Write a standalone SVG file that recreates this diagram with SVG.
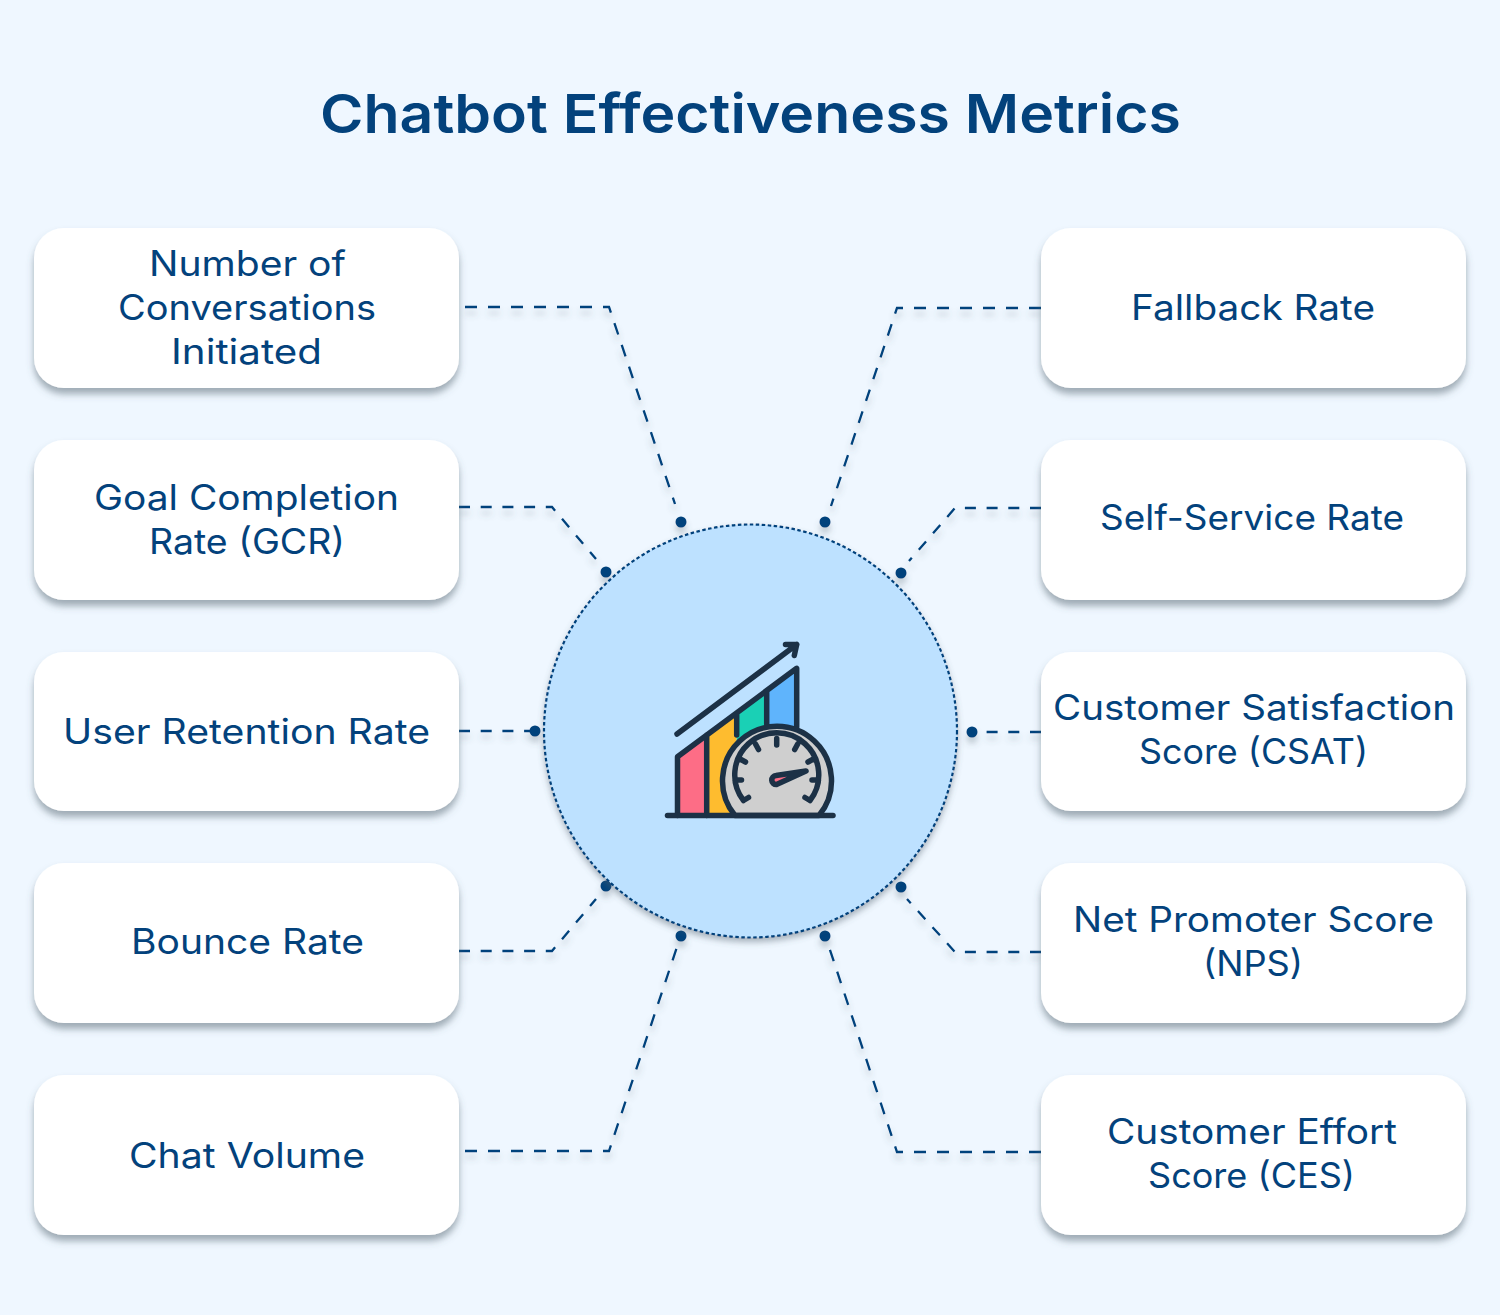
<svg xmlns="http://www.w3.org/2000/svg" width="1500" height="1315" viewBox="0 0 1500 1315">
<defs>
<filter id="cs" x="-10%" y="-20%" width="120%" height="140%"><feDropShadow dx="0" dy="6" stdDeviation="3.5" flood-color="#4f5f6b" flood-opacity="0.5"/></filter>
<filter id="ls" x="-5%" y="-5%" width="110%" height="110%"><feDropShadow dx="0" dy="6" stdDeviation="3" flood-color="#4f5f6b" flood-opacity="0.3"/></filter>
<filter id="os" x="-10%" y="-10%" width="120%" height="120%"><feDropShadow dx="0" dy="4" stdDeviation="3" flood-color="#4f5f6b" flood-opacity="0.45"/></filter>
</defs>
<style>
.card{fill:#fff;filter:url(#cs)}
text{font-family:"Inter","Noto Sans","Liberation Sans",sans-serif;fill:#03427c}
.t{font-size:35px;font-weight:430;text-anchor:start}
.c{fill:none;stroke:#03427c;stroke-width:2.300;stroke-dasharray:12 11}
.d{fill:#03427c}
.i{fill:none;stroke:#1c3146;stroke-width:5.500;stroke-linecap:round;stroke-linejoin:round}
</style>
<rect width="1500" height="1315" fill="#eff7ff"/>
<text x="320" y="133" font-size="54" font-weight="620" textLength="861" lengthAdjust="spacingAndGlyphs">Chatbot Effectiveness Metrics</text>

<g id="connectors" filter="url(#ls)">
<path class="c" d="M465 307H609L675 504"/>
<path class="c" style="stroke-dasharray:11 10.7" d="M459 507H552L596 559"/>
<path class="c" style="stroke-dasharray:11 10.7" d="M459 731H530"/>
<path class="c" style="stroke-dasharray:11 10.7" d="M459 951H552L596 899"/>
<path class="c" d="M465 1151H609L677 947"/>
<path class="c" d="M1041 308H897L831 506"/>
<path class="c" style="stroke-dasharray:11 10.7" d="M1041 508H955L909 561"/>
<path class="c" style="stroke-dasharray:11 10.7" d="M1041 732H976"/>
<path class="c" style="stroke-dasharray:11 10.7" d="M1041 952H955L907 899"/>
<path class="c" d="M1041 1152H897L829 947"/>
<circle class="d" cx="681" cy="522" r="5.500"/><circle class="d" cx="825" cy="522" r="5.500"/>
<circle class="d" cx="606" cy="572" r="5.500"/><circle class="d" cx="901" cy="573" r="5.500"/>
<circle class="d" cx="535" cy="731" r="5.500"/><circle class="d" cx="972" cy="732" r="5.500"/>
<circle class="d" cx="606" cy="886" r="5.500"/><circle class="d" cx="901" cy="887" r="5.500"/>
<circle class="d" cx="681" cy="936" r="5.500"/><circle class="d" cx="825" cy="936" r="5.500"/>
</g>

<g id="hub">
<circle cx="750.500" cy="731" r="206.500" fill="#bde1ff" stroke="#03427c" stroke-width="2.200" stroke-dasharray="3.500 2.500" filter="url(#os)"/>
<g id="icon">
<polygon points="677,815 677,757 706.700,735 706.700,815" fill="#fd6d86"/>
<polygon points="706.700,815 706.700,735 736.700,713 736.700,815" fill="#febc2f"/>
<polygon points="736.700,815 736.700,713 766.700,691 766.700,815" fill="#1ad0b5"/>
<polygon points="766.700,815 766.700,691 796.700,668.500 796.700,815" fill="#5fb4fc"/>
<path class="i" d="M677.500 815.500V756.700L796.700 668.300V727M706.700 815.500V735M736.700 735V713M766.700 724V690.700"/>
<path class="i" d="M677 734L796.700 644.500M785.500 644.500H796.700L794.300 655.500"/>
<path d="M735 815.500A54.500 54.500 0 1 1 819 815.500Z" fill="#cfcfcf" stroke="#1c3146" stroke-width="5.500" stroke-linejoin="round"/>
<path class="i" d="M667.500 815.500H833"/>
<path class="i" d="M743.500 800.500A42 42 0 1 1 810 800.500M743.500 800.500L748.500 797.500M810 800.500L805 797.500M735 780H741.500M818.500 780H812M740 759L745.500 762M813.500 759L808 762M755.500 744L758.500 749.500M797.700 744L794.700 749.500M776.700 738.500V745"/>
<path d="M806 771L776 775.500A4.500 4.500 0 0 0 776.500 784.500Z" fill="#fd6d86" stroke="#1c3146" stroke-width="5.500" stroke-linejoin="round"/>
</g>
</g>

<g id="n1"><rect class="card" x="34" y="228" width="425" height="160" rx="30"/>
<text class="t" x="149" y="276" textLength="197" lengthAdjust="spacingAndGlyphs">Number of</text><text class="t" x="118" y="320" textLength="258" lengthAdjust="spacingAndGlyphs">Conversations</text><text class="t" x="171" y="364" textLength="151" lengthAdjust="spacingAndGlyphs">Initiated</text></g>
<g id="n2"><rect class="card" x="34" y="440" width="425" height="160" rx="30"/>
<text class="t" x="94" y="510" textLength="305" lengthAdjust="spacingAndGlyphs">Goal Completion</text><text class="t" x="149" y="554" textLength="196" lengthAdjust="spacingAndGlyphs">Rate (GCR)</text></g>
<g id="n3"><rect class="card" x="34" y="652" width="425" height="159" rx="30"/>
<text class="t" x="63" y="744" textLength="367" lengthAdjust="spacingAndGlyphs">User Retention Rate</text></g>
<g id="n4"><rect class="card" x="34" y="863" width="425" height="160" rx="30"/>
<text class="t" x="131" y="954" textLength="233" lengthAdjust="spacingAndGlyphs">Bounce Rate</text></g>
<g id="n5"><rect class="card" x="34" y="1075" width="425" height="160" rx="30"/>
<text class="t" x="129" y="1168" textLength="236" lengthAdjust="spacingAndGlyphs">Chat Volume</text></g>
<g id="n6"><rect class="card" x="1041" y="228" width="425" height="160" rx="30"/>
<text class="t" x="1131" y="320" textLength="244" lengthAdjust="spacingAndGlyphs">Fallback Rate</text></g>
<g id="n7"><rect class="card" x="1041" y="440" width="425" height="160" rx="30"/>
<text class="t" x="1100" y="530" textLength="304" lengthAdjust="spacingAndGlyphs">Self-Service Rate</text></g>
<g id="n8"><rect class="card" x="1041" y="652" width="425" height="159" rx="30"/>
<text class="t" x="1053" y="720" textLength="402" lengthAdjust="spacingAndGlyphs">Customer Satisfaction</text><text class="t" x="1139" y="764" textLength="229" lengthAdjust="spacingAndGlyphs">Score (CSAT)</text></g>
<g id="n9"><rect class="card" x="1041" y="863" width="425" height="160" rx="30"/>
<text class="t" x="1073" y="932" textLength="361" lengthAdjust="spacingAndGlyphs">Net Promoter Score</text><text class="t" x="1203" y="976" textLength="100" lengthAdjust="spacingAndGlyphs">(NPS)</text></g>
<g id="n10"><rect class="card" x="1041" y="1075" width="425" height="160" rx="30"/>
<text class="t" x="1107" y="1144" textLength="290" lengthAdjust="spacingAndGlyphs">Customer Effort</text><text class="t" x="1148" y="1188" textLength="207" lengthAdjust="spacingAndGlyphs">Score (CES)</text></g>
</svg>
